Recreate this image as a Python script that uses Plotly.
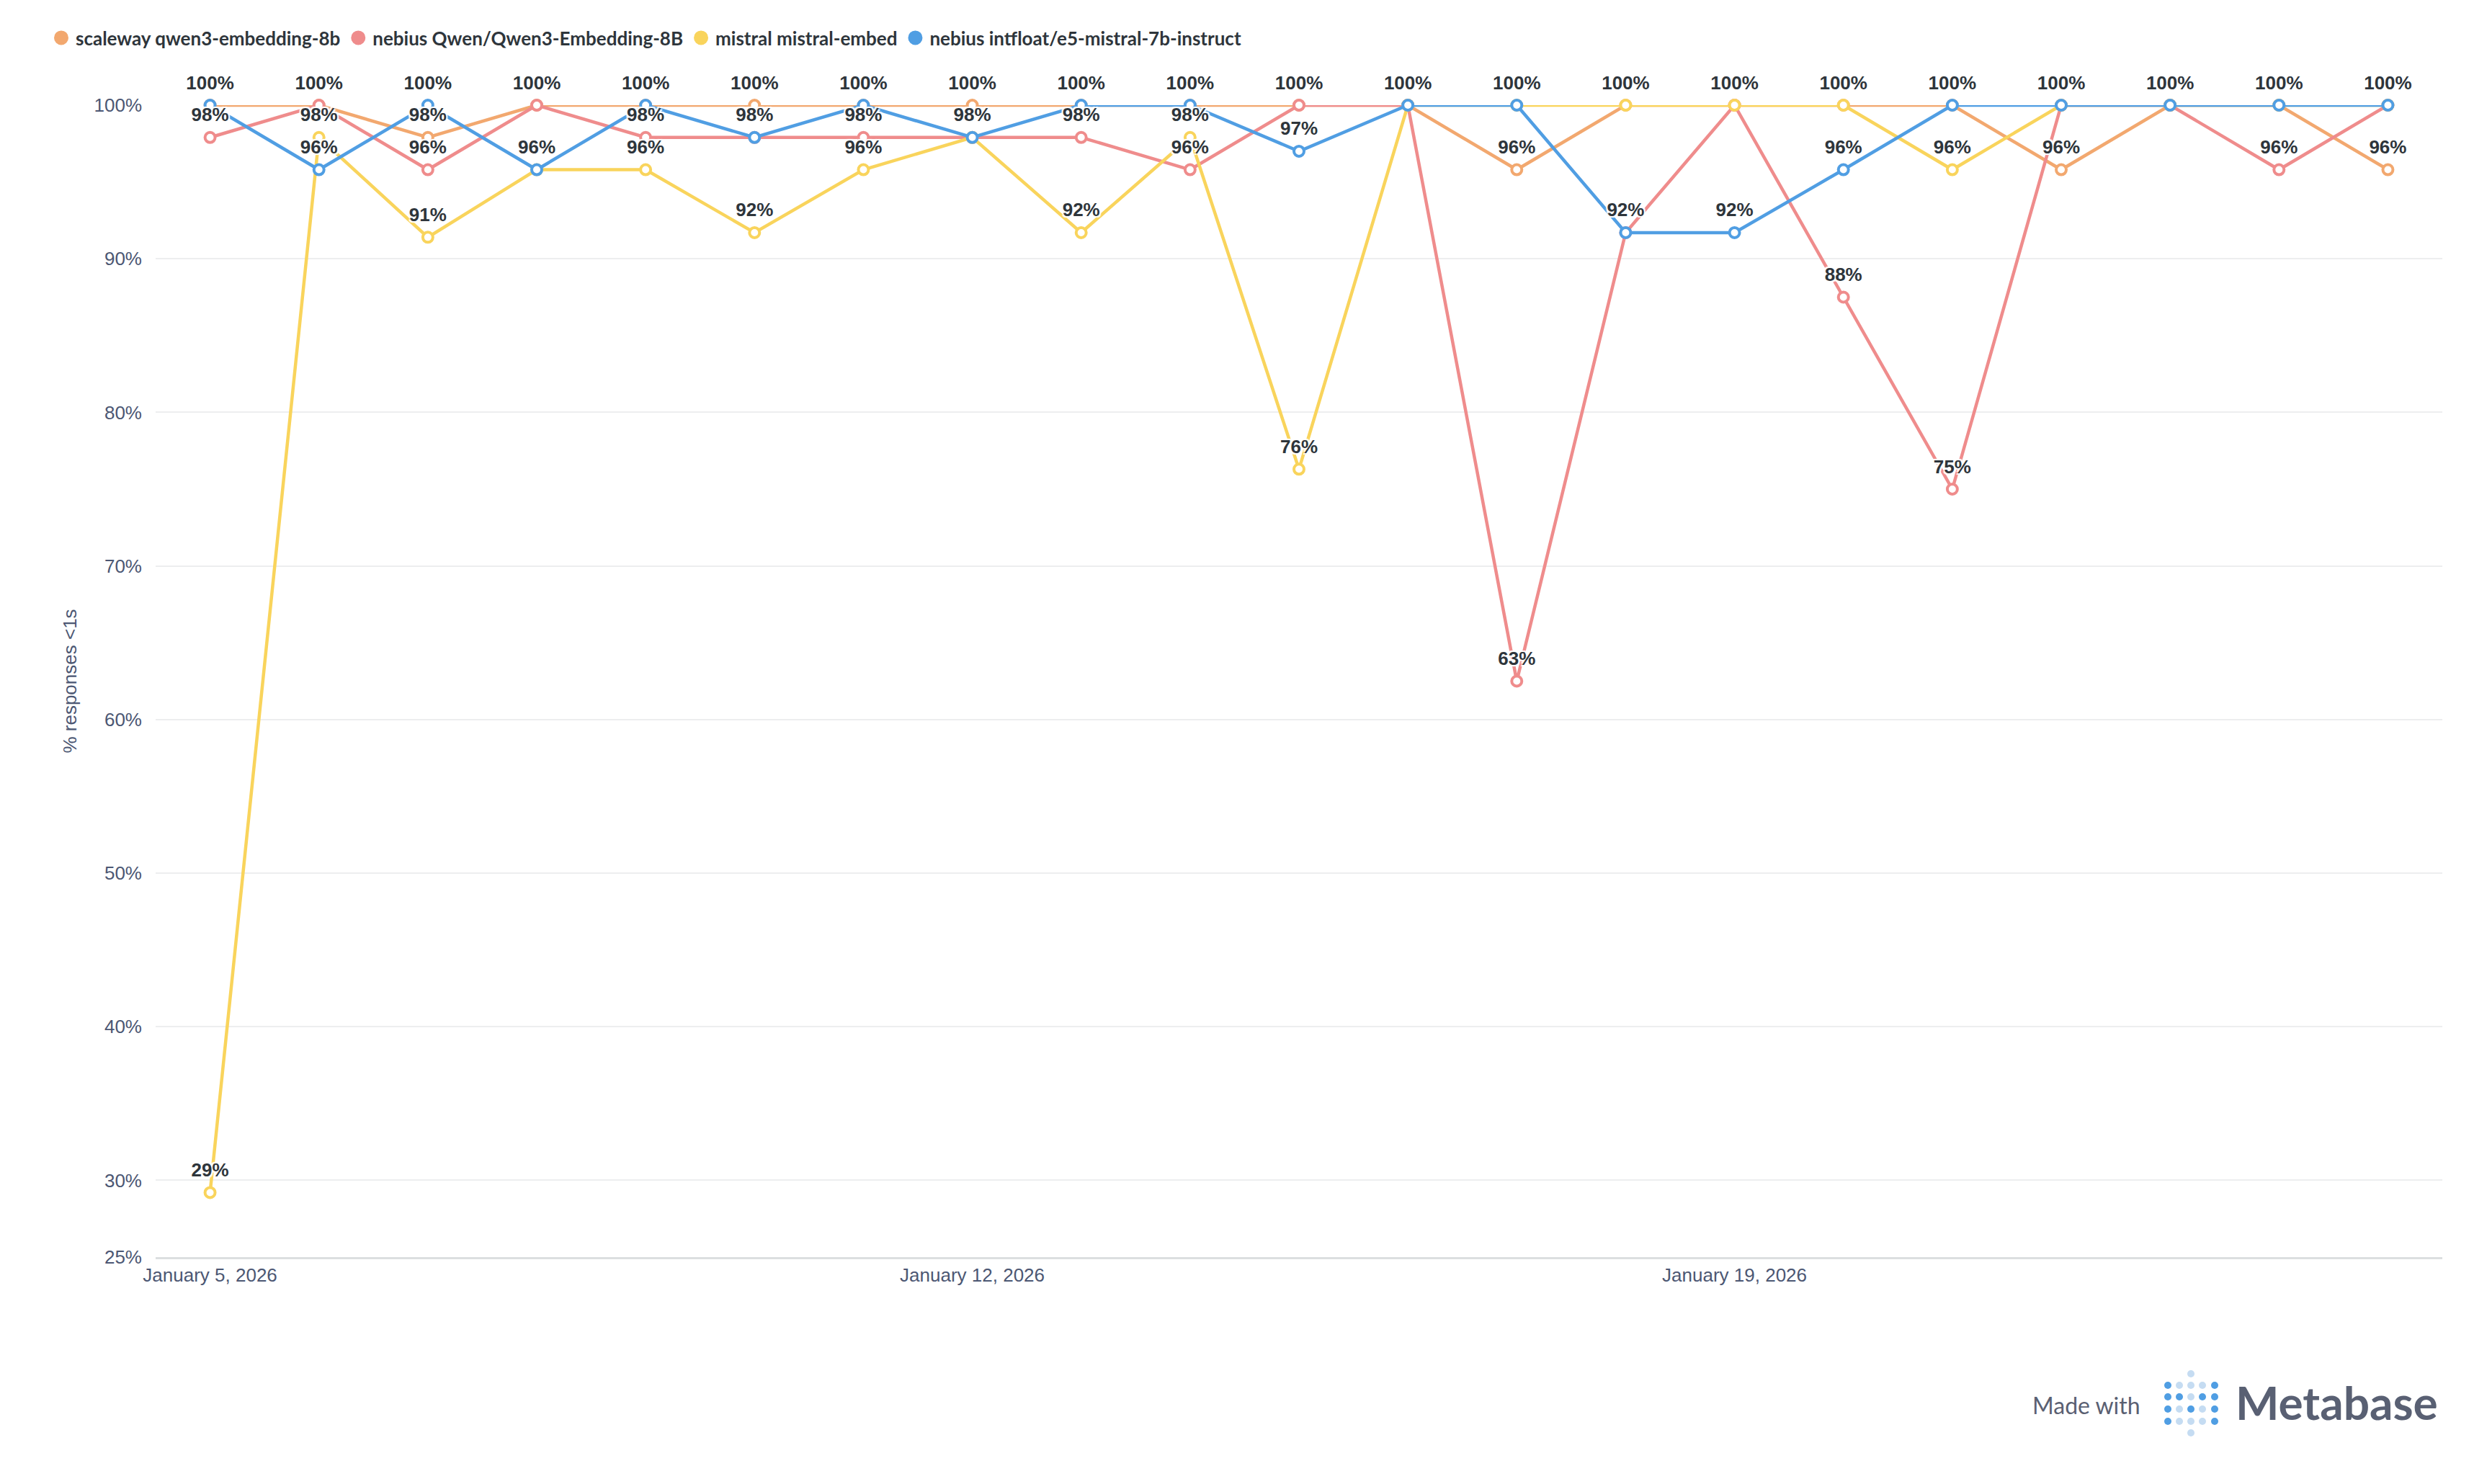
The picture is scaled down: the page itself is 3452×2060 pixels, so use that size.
import math
import plotly.graph_objects as go

# dates (one point per day)
dates = [f"2026-01-{d:02d}" for d in range(5, 26)]

series_names = [
    "scaleway qwen3-embedding-8b",
    "nebius Qwen/Qwen3-Embedding-8B",
    "mistral mistral-embed",
    "nebius intfloat/e5-mistral-7b-instruct",
]
series_colors = ["#F2A86F", "#EF8C8C", "#F9D45C", "#509EE3"]

# % responses < 1s
scaleway_qwen = [100, 100, 97.9, 100, 100, 100, 100, 100, 100, 100, 100,
                 100, 95.8, 100, 100, 100, 100, 95.8, 100, 100, 95.8]
nebius_qwen = [97.9, 100, 95.8, 100, 97.9, 97.9, 97.9, 97.9, 97.9, 95.8, 100,
               100, 62.5, 91.7, 100, 87.5, 75.0, 100, 100, 95.8, 100]
mistral_embed = [29.2, 97.9, 91.4, 95.8, 95.8, 91.7, 95.8, 97.9, 91.7, 97.9, 76.3,
                 100, 100, 100, 100, 100, 95.8, 100, 100, 100, 100]
nebius_e5 = [100, 95.8, 100, 95.8, 100, 97.9, 100, 97.9, 100, 100, 97.0,
             100, 100, 91.7, 91.7, 95.8, 100, 100, 100, 100, 100]

y_ticks = [25, 30, 40, 50, 60, 70, 80, 90, 100]
y_tick_labels = ["25%", "30%", "40%", "50%", "60%", "70%", "80%", "90%", "100%"]
x_ticks = ["2026-01-05", "2026-01-12", "2026-01-19"]

all_series = [scaleway_qwen, nebius_qwen, mistral_embed, nebius_e5]

# page size, and plot area in page pixels (page body has an 8px margin)
W, H = 3452, 2060
OFF = 8
L, R, T, B = 216, 3390, 146, 1745

TICK_FONT = "Liberation Sans, Arial, sans-serif"


def px(x):
    return (x - L) / (R - L)


def py(y):
    return (B - y) / (B - T)


def pct(v):
    return f"{math.floor(v + 0.5)}%"


fig = go.Figure()

# lines
for name, color, vals in zip(series_names, series_colors, all_series):
    fig.add_trace(go.Scatter(
        x=dates, y=vals, mode="lines+markers", name=name,
        line=dict(color=color, width=4.5),
        marker=dict(size=14, color="white", line=dict(color=color, width=4)),
        cliponaxis=False, showlegend=False,
    ))

# legend entries (filled dots like metabase)
for name, color in zip(series_names, series_colors):
    fig.add_trace(go.Scatter(
        x=[None], y=[None], mode="markers", name=name,
        marker=dict(size=16, color=color, line=dict(color=color, width=4)),
    ))

# data labels, one per distinct value per day
seen = [set() for _ in dates]
for vals in all_series:
    texts = []
    for i, v in enumerate(vals):
        t = pct(v)
        if t in seen[i]:
            texts.append("")
        else:
            seen[i].add(t)
            texts.append(t)
    fig.add_trace(go.Scatter(
        x=dates, y=vals, mode="markers+text", text=texts,
        textposition="top center",
        textfont=dict(family=TICK_FONT, size=26, color="#2E353B", weight=700,
                      shadow="2px 2px 1px #fff, -2px -2px 1px #fff, 2px -2px 1px #fff, -2px 2px 1px #fff"),
        marker=dict(size=24, opacity=0),
        cliponaxis=False, showlegend=False, hoverinfo="skip",
    ))

# "Made with Metabase" footer
shapes = []
dot_cols = [3009, 3025, 3041, 3057, 3074]
dot_rows = [1923, 1939, 1956, 1973]
dark, light = "#509EE3", "#C5DCF2"
pattern = [
    [1, 0, 0, 0, 1],
    [1, 1, 0, 1, 1],
    [1, 0, 1, 0, 1],
    [1, 0, 0, 0, 1],
]
dots = []
for r, row in enumerate(pattern):
    for c, on in enumerate(row):
        dots.append((dot_cols[c], dot_rows[r], dark if on else light))
dots.append((3041, 1907, light))
dots.append((3041, 1989, light))
for cx, cy, col in dots:
    shapes.append(dict(
        type="circle", xref="paper", yref="paper",
        x0=px(cx - 5), x1=px(cx + 5), y0=py(cy + 5), y1=py(cy - 5),
        fillcolor=col, line=dict(width=0),
    ))

annotations = [
    dict(text="Made with", xref="paper", yref="paper", x=px(2896), y=py(1950),
         xanchor="center", yanchor="middle",
         showarrow=False, font=dict(family="Lato", size=32, color="#5A6072")),
    dict(text="<b>Metabase</b>", xref="paper", yref="paper", x=px(3243), y=py(1946),
         xanchor="center", yanchor="middle",
         showarrow=False, font=dict(family="Lato", size=64, color="#596073")),
]

fig.update_layout(
    width=W - OFF, height=H - OFF,
    margin=dict(l=L - OFF, r=W - R, t=T - OFF, b=H - B),
    paper_bgcolor="white", plot_bgcolor="white",
    showlegend=True,
    legend=dict(
        orientation="h", xref="container", yref="container",
        x=57 / (W - OFF), y=1 - 21 / (H - OFF), xanchor="left", yanchor="top",
        font=dict(family="Lato", size=26, color="#2E353B", weight=700),
        itemclick=False, itemdoubleclick=False,
    ),
    xaxis=dict(
        type="date", range=["2026-01-04 12:00", "2026-01-25 12:00"],
        tickvals=x_ticks, tickformat="%B %-d, %Y",
        showgrid=False, zeroline=False, automargin=False,
        showline=True, linecolor="#DCDFE0", linewidth=3,
        ticks="", tickfont=dict(family=TICK_FONT, size=26, color="#4C5773"),
        ticklabelstandoff=0,
    ),
    yaxis=dict(
        range=[25, 100], tickvals=y_ticks, ticktext=y_tick_labels,
        showgrid=True, gridcolor="#EDEEEF", gridwidth=2,
        zeroline=False, showline=False, ticks="", automargin=False,
        tickfont=dict(family=TICK_FONT, size=26, color="#4C5773"),
        ticklabelstandoff=18,
        title=dict(text="% responses <1s", standoff=16,
                   font=dict(family=TICK_FONT, size=26, color="#4C5773")),
    ),
    shapes=shapes,
    annotations=annotations,
)

fig.write_html("out.html")
